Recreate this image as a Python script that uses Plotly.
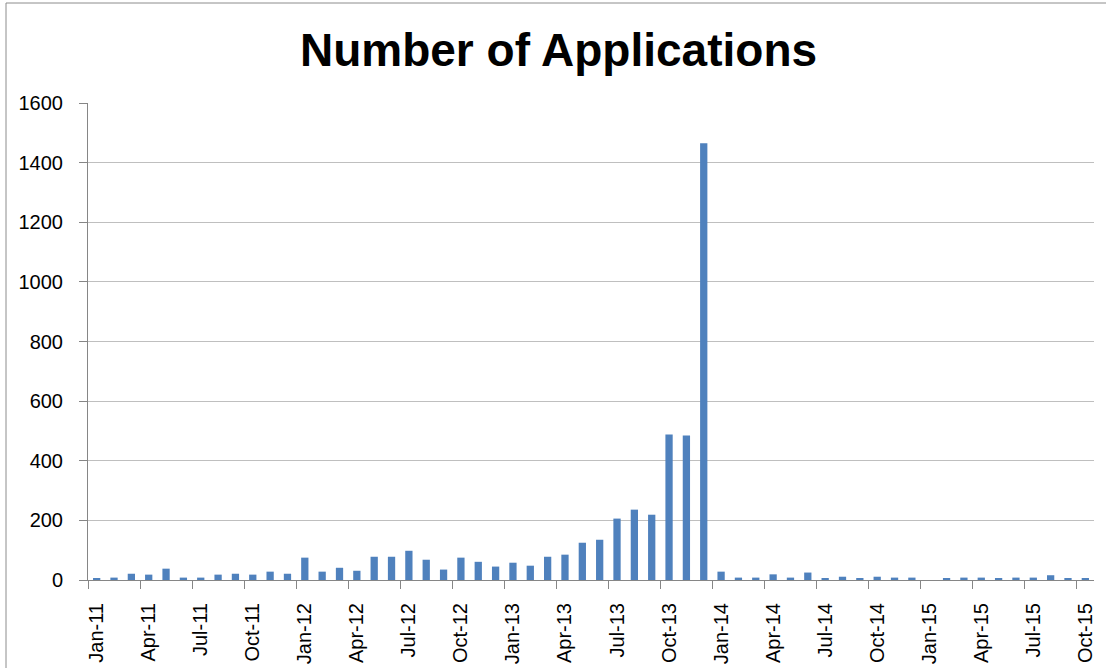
import plotly.graph_objects as go

months = [
    "Jan-11", "Feb-11", "Mar-11", "Apr-11", "May-11", "Jun-11", "Jul-11", "Aug-11", "Sep-11", "Oct-11", "Nov-11", "Dec-11",
    "Jan-12", "Feb-12", "Mar-12", "Apr-12", "May-12", "Jun-12", "Jul-12", "Aug-12", "Sep-12", "Oct-12", "Nov-12", "Dec-12",
    "Jan-13", "Feb-13", "Mar-13", "Apr-13", "May-13", "Jun-13", "Jul-13", "Aug-13", "Sep-13", "Oct-13", "Nov-13", "Dec-13",
    "Jan-14", "Feb-14", "Mar-14", "Apr-14", "May-14", "Jun-14", "Jul-14", "Aug-14", "Sep-14", "Oct-14", "Nov-14", "Dec-14",
    "Jan-15", "Feb-15", "Mar-15", "Apr-15", "May-15", "Jun-15", "Jul-15", "Aug-15", "Sep-15", "Oct-15",
]
applications = [
    5, 8, 21, 18, 38, 8, 8, 18, 21, 18, 28, 21,
    75, 28, 41, 31, 78, 78, 98, 68, 35, 75, 61, 45,
    58, 48, 78, 85, 125, 135, 206, 236, 219, 488, 485, 1465,
    28, 8, 8, 19, 8, 25, 5, 11, 4, 11, 8, 8,
    0, 4, 8, 8, 4, 8, 8, 16, 4, 4,
]
label_months = months[::3]
boundary_ticks = [i - 0.5 for i in range(0, len(months), 3)]

FONT = "Liberation Sans, Arial, sans-serif"
AXIS_GREY = "#868686"

fig = go.Figure()
fig.add_trace(go.Bar(x=months, y=applications, marker=dict(color="#4F81BD", line=dict(width=0)),
                     showlegend=False, hoverinfo="x+y"))
fig.add_trace(go.Scatter(x=[], y=[], xaxis="x2", showlegend=False))

fig.update_layout(
    width=1106, height=668,
    paper_bgcolor="white", plot_bgcolor="white",
    margin=dict(l=88, r=12, t=103, b=88, autoexpand=False),
    bargap=0.58,
    title=dict(text="Number of Applications", x=0.505, xref="container", xanchor="center",
               y=1 - 50 / 668, yref="container", yanchor="middle",
               font=dict(family=FONT, size=46, color="black", weight="bold")),
    xaxis=dict(type="category", categoryorder="array", categoryarray=months, automargin=False,
               range=[-0.5, len(months) - 0.5], tickvals=label_months, ticks="",
               tickangle=-90, tickfont=dict(family=FONT, size=20, color="black"),
               showline=True, linecolor=AXIS_GREY, linewidth=1, showgrid=False,
               ticklabelstandoff=14),
    xaxis2=dict(overlaying="x", anchor="y", side="bottom", range=[-0.5, len(months) - 0.5],
                automargin=False,
                tickvals=boundary_ticks, ticks="outside", ticklen=8, tickcolor=AXIS_GREY,
                showticklabels=False, showgrid=False, showline=False, zeroline=False),
    yaxis=dict(range=[0, 1600], dtick=200, tickfont=dict(family=FONT, size=20, color="black"),
               automargin=False,
               showgrid=True, gridcolor="#BFBFBF", gridwidth=1, zeroline=False,
               showline=True, linecolor=AXIS_GREY, linewidth=1,
               ticks="outside", ticklen=8, tickcolor=AXIS_GREY, ticklabelstandoff=12),
    shapes=[dict(type="rect", xref="paper", yref="paper",
                 x0=-82 / 1006, x1=1110 / 1006, y0=-0.3, y1=1 + 100 / 477,
                 line=dict(color="#8C8C8C", width=1), fillcolor="rgba(0,0,0,0)", layer="below")],
)

fig.write_html("out.html", config={"displayModeBar": False},
               post_script="document.body.style.margin='0';")
